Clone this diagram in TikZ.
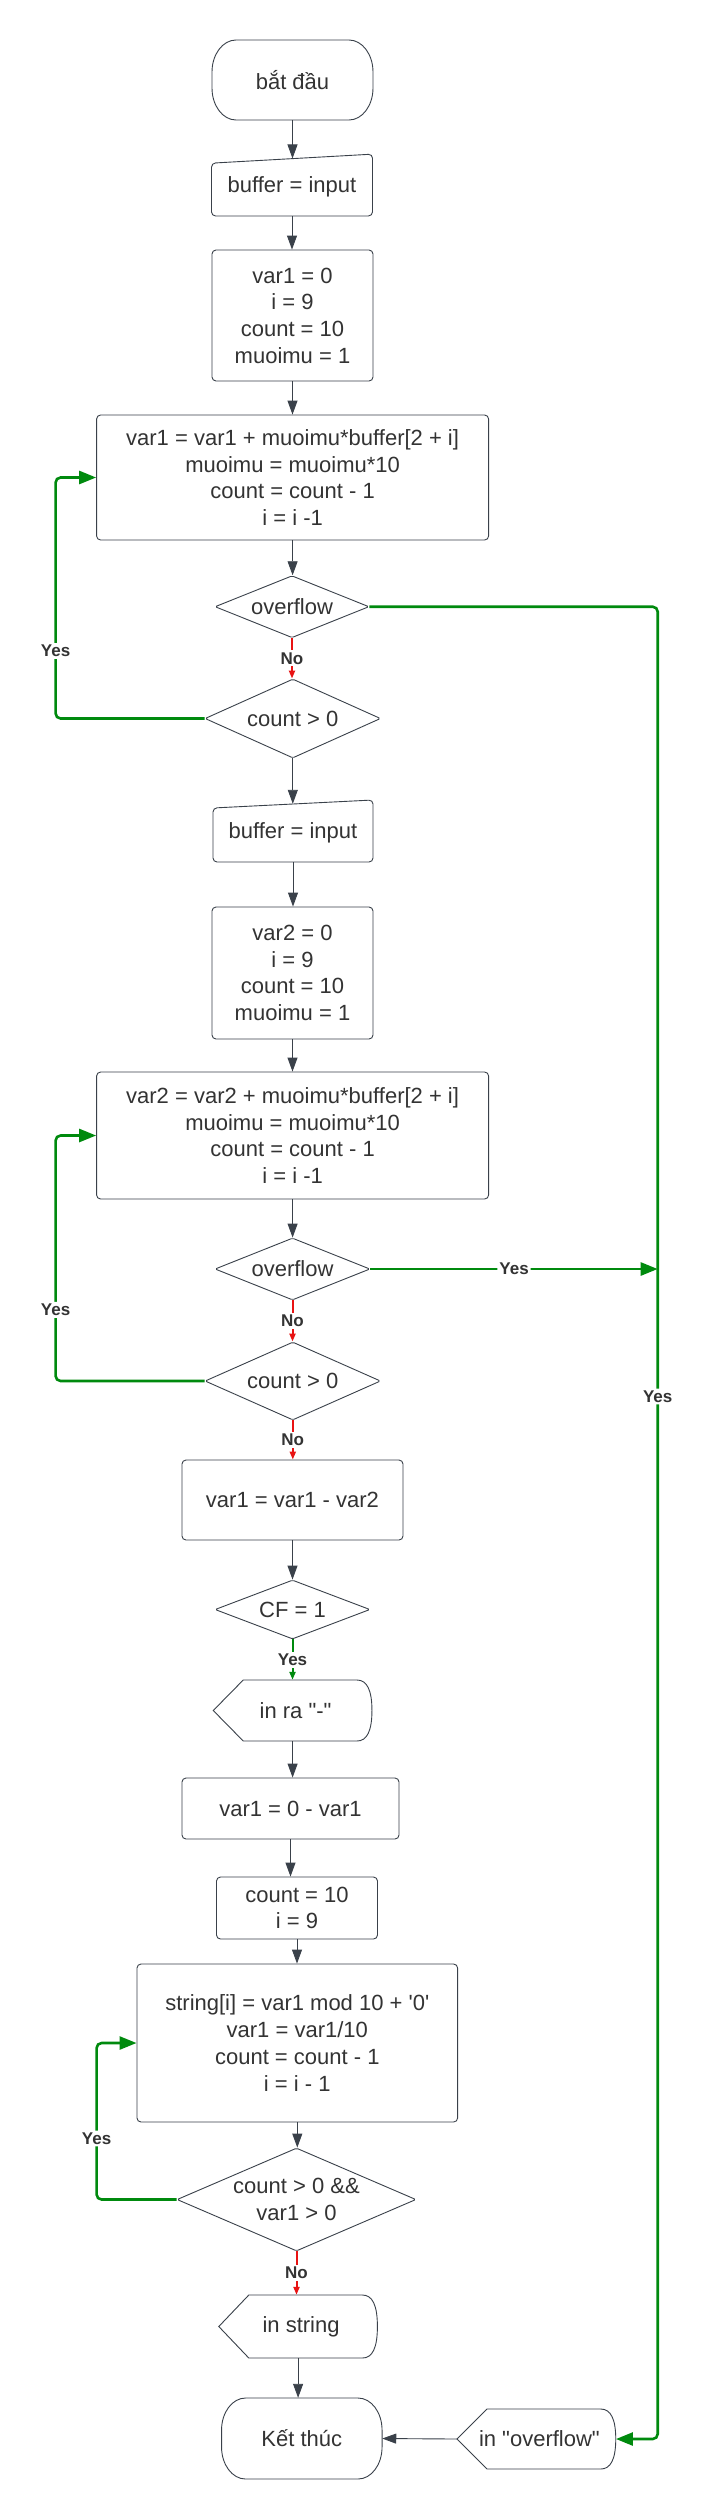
\documentclass[tikz,border=0pt]{standalone}
\usepackage{fontspec}
\setmainfont{Liberation Sans}[Ligatures=TeXOff]
\usetikzlibrary{shapes.geometric,arrows.meta,calc}
\definecolor{ink}{HTML}{3A414A}
\definecolor{txt}{HTML}{333333}
\definecolor{ygreen}{HTML}{008A0E}
\definecolor{nred}{HTML}{E81313}
\newcommand\termshape[4]{%
\pgfmathsetmacro\tXl{#1-#3/2}\pgfmathsetmacro\tXr{#1+#3/2}%
\pgfmathsetmacro\tYt{#2-#4/2}\pgfmathsetmacro\tYb{#2+#4/2}%
\draw[shp] (\tXl+24,\tYt) -- (\tXr-24,\tYt) .. controls (\tXr-10.75,\tYt) and (\tXr,\tYt+14.33) .. (\tXr,\tYt+32) -- (\tXr,\tYb-32) .. controls (\tXr,\tYb-14.33) and (\tXr-10.75,\tYb) .. (\tXr-24,\tYb) -- (\tXl+24,\tYb) .. controls (\tXl+10.75,\tYb) and (\tXl,\tYb-14.33) .. (\tXl,\tYb-32) -- (\tXl,\tYt+32) .. controls (\tXl,\tYt+14.33) and (\tXl+10.75,\tYt) .. (\tXl+24,\tYt) -- cycle;}
\newcommand\dispshape[4]{%
\pgfmathsetmacro\tXl{#1-#3/2}\pgfmathsetmacro\tXr{#1+#3/2}%
\pgfmathsetmacro\tYt{#2-#4/2}\pgfmathsetmacro\tYb{#2+#4/2}%
\draw[shp] (\tXl,#2) -- (\tXl+30,\tYt) -- (\tXr-15,\tYt) .. controls (\tXr-5,\tYt) and (\tXr,\tYt+10) .. (\tXr,#2) .. controls (\tXr,\tYb-10) and (\tXr-5,\tYb) .. (\tXr-15,\tYb) -- (\tXl+30,\tYb) -- cycle;}
\newcommand\manshape[5]{%
\pgfmathsetmacro\tXl{#1-#3/2}\pgfmathsetmacro\tXr{#1+#3/2}%
\pgfmathsetmacro\tYt{#2-#4/2}\pgfmathsetmacro\tYb{#2+#4/2}%
\draw[shp, rounded corners=4pt] (\tXl,\tYt+#5/2) -- (\tXr,\tYt-#5/2) -- (\tXr,\tYb) -- (\tXl,\tYb) -- cycle;}
\begin{document}
\begin{tikzpicture}[x=1pt,y=-1pt,
  base/.style={font=\fontsize{22}{26.7}\selectfont, text=txt, align=center, inner sep=0pt},
  proc/.style={base, draw=ink, line width=0.9pt, rounded corners=4pt, rectangle},
  dec/.style={base, draw=ink, line width=0.9pt, diamond, rounded corners=1.5pt},
  free/.style={base},
  shp/.style={draw=ink, line width=0.9pt},
  flow/.style={draw=ink, line width=0.9pt, -{Triangle[length=14pt,width=10pt]}},
  yesline/.style={draw=ygreen, line width=2.6pt, rounded corners=5pt, -{Triangle[length=17pt,width=13pt]}},
  noline/.style={draw=nred, line width=2pt, -{Triangle[length=8pt,width=6pt]}},
  yesshort/.style={draw=ygreen, line width=2pt, -{Triangle[length=8pt,width=6pt]}},
  lbl/.style={font=\fontsize{17}{19}\selectfont\bfseries, text=txt, fill=white, inner sep=2pt}]
\useasboundingbox[fill=white] (0,0) rectangle (711,2519);

% ---- start
\termshape{292.5}{80}{161}{80}
\node[free, minimum width=161pt, minimum height=80pt] (start) at (292.5,80) {bắt đầu};
% ---- input 1
\manshape{292}{187.3}{161}{57.3}{9}
\node[free, minimum width=161pt, minimum height=57.3pt] (in1) at (292,187.3) {buffer = input};
\node[proc, minimum width=161pt, minimum height=131pt] (init1) at (292.5,315.5) {var1 = 0\\i = 9\\count = 10\\muoimu = 1};
\node[proc, minimum width=392pt, minimum height=125pt] (p1) at (292.6,477.5) {var1 = var1 + muoimu*buffer[2 + i]\\muoimu = muoimu*10\\count = count - 1\\i = i -1};
\node[dec, aspect=2.48, minimum width=154pt, minimum height=62pt] (ov1) at (292,606.7) {overflow};
\node[dec, aspect=2.22, minimum width=175.6pt, minimum height=79pt] (c1) at (292.8,718.5) {count > 0};
% ---- input 2
\manshape{293}{833}{160}{58}{8}
\node[free, minimum width=160pt, minimum height=58pt] (in2) at (293,833) {buffer = input};
\node[proc, minimum width=161pt, minimum height=132pt] (init2) at (292.5,973) {var2 = 0\\i = 9\\count = 10\\muoimu = 1};
\node[proc, minimum width=392pt, minimum height=127pt] (p2) at (292.6,1135.5) {var2 = var2 + muoimu*buffer[2 + i]\\muoimu = muoimu*10\\count = count - 1\\i = i -1};
\node[dec, aspect=2.5, minimum width=155pt, minimum height=62pt] (ov2) at (292.5,1269) {overflow};
\node[dec, aspect=2.25, minimum width=175.6pt, minimum height=78pt] (c2) at (292.8,1381) {count > 0};
\node[proc, minimum width=221pt, minimum height=80pt] (sub) at (292.5,1500) {var1 = var1 - var2};
\node[dec, aspect=2.63, minimum width=155pt, minimum height=59pt] (cf) at (292.5,1609.5) {CF = 1};
% ---- display in ra
\dispshape{292.6}{1710.5}{158.7}{61}
\node[free, minimum width=158.7pt, minimum height=61pt] (inra) at (292.6,1710.5) {\hspace*{6pt}in ra "-"};
\node[proc, minimum width=217pt, minimum height=61pt] (neg) at (290.5,1808.5) {var1 = 0 - var1};
\node[proc, minimum width=161pt, minimum height=62pt] (cnt) at (297,1908) {count = 10\\i = 9};
\node[proc, minimum width=320.6pt, minimum height=158pt] (str) at (297.3,2043) {string[i] = var1 mod 10 + '0'\\var1 = var1/10\\count = count - 1\\i = i - 1};
\node[dec, aspect=2.32, minimum width=239pt, minimum height=103pt] (c3) at (296.5,2199.5) {count > 0 \&\&\\var1 > 0};
% ---- display in string
\dispshape{298.1}{2326.5}{158.6}{63}
\node[free, minimum width=158.6pt, minimum height=63pt] (instr) at (298.1,2326.5) {\hspace*{6pt}in string};
% ---- end
\termshape{301.8}{2438.5}{160.5}{81}
\node[free, minimum width=160.5pt, minimum height=81pt] (end) at (301.8,2438.5) {Kết thúc};
% ---- display overflow
\dispshape{536.4}{2439}{158.7}{60}
\node[free, minimum width=158.7pt, minimum height=60pt] (inov) at (536.4,2439) {\hspace*{6pt}in "overflow"};

% ---- coordinates for loop/turn points
\coordinate (l1) at (55.6,477.5);
\coordinate (l2) at (55.6,1135.5);
\coordinate (l3) at (96.6,2043);
\coordinate (rj) at (657.7,1269);

% ---- straight flow arrows
\draw[flow] (start.south) -- (start.south |- in1.north);
\draw[flow] (in1.south) -- (in1.south |- init1.north);
\draw[flow] (init1.south) -- (init1.south |- p1.north);
\draw[flow] (p1.south) -- (p1.south |- ov1.north);
\draw[flow] (c1.south) -- (c1.south |- in2.north);
\draw[flow] (in2.south) -- (in2.south |- init2.north);
\draw[flow] (init2.south) -- (init2.south |- p2.north);
\draw[flow] (p2.south) -- (p2.south |- ov2.north);
\draw[flow] (sub.south) -- (sub.south |- cf.north);
\draw[flow] (inra.south) -- (inra.south |- neg.north);
\draw[flow] (neg.south) -- (neg.south |- cnt.north);
\draw[flow] (cnt.south) -- (cnt.south |- str.north);
\draw[flow] (str.south) -- (str.south |- c3.north);
\draw[flow] (instr.south) -- (instr.south |- end.north);
\draw[flow] (inov.west) -- (end.east);

% ---- No branches
\draw[noline] (ov1.south) -- node[lbl]{No} (ov1.south |- c1.north);
\draw[noline] (ov2.south) -- node[lbl]{No} (ov2.south |- c2.north);
\draw[noline] (c2.south) -- node[lbl]{No} (c2.south |- sub.north);
\draw[noline] (c3.south) -- node[lbl]{No} (c3.south |- instr.north);
\draw[yesshort] (cf.south) -- node[lbl]{Yes} (cf.south |- inra.north);

% ---- Yes loops
\draw[yesline] (c1.west) -- (c1.west -| l1) -- node[lbl,pos=0.28]{Yes} (l1) -- (p1.west);
\draw[yesline] (c2.west) -- (c2.west -| l2) -- node[lbl,pos=0.29]{Yes} (l2) -- (p2.west);
\draw[yesline] (c3.west) -- (c3.west -| l3) -- node[lbl,pos=0.39]{Yes} (l3) -- (str.west);

% ---- overflow exits
\draw[yesline] (ov1.east) -| (rj) -- node[lbl,pos=0.109]{Yes} (rj |- inov.east) -- (inov.east);
\draw[yesline] (ov2.east) -- node[lbl]{Yes} (rj);
\end{tikzpicture}
\end{document}
